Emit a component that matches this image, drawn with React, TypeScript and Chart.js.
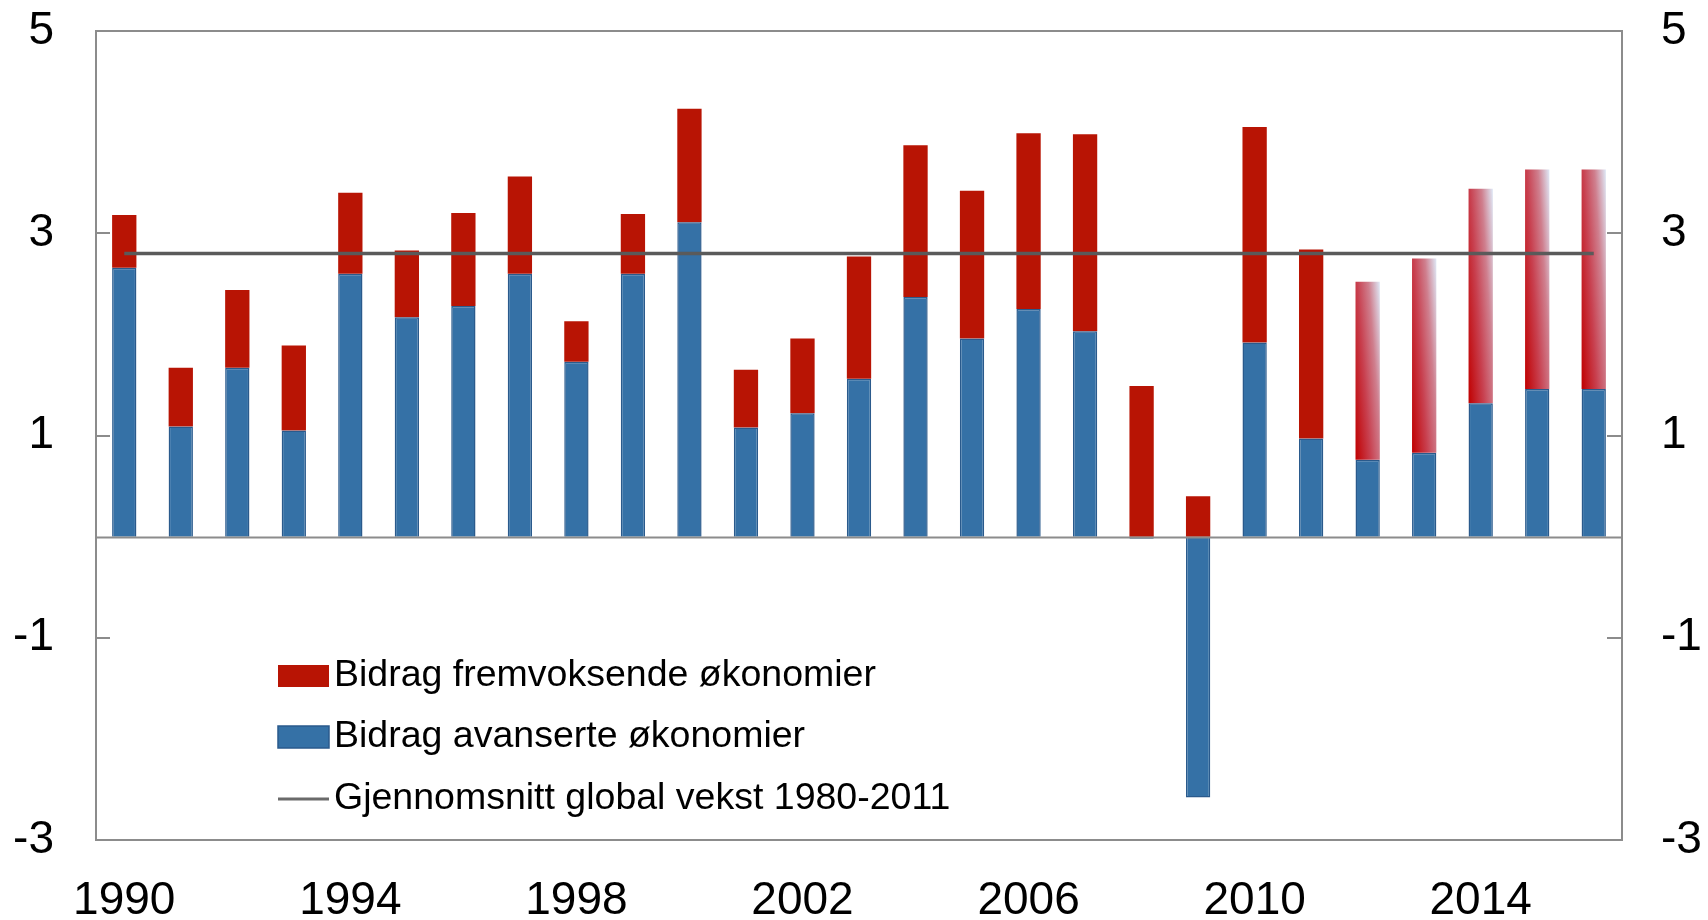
import React, { useEffect, useRef } from "react";
import { Chart, registerables } from "chart.js";

Chart.register(...registerables);

const years = [
  "1990", "1991", "1992", "1993", "1994", "1995", "1996", "1997", "1998", "1999",
  "2000", "2001", "2002", "2003", "2004", "2005", "2006", "2007", "2008", "2009",
  "2010", "2011", "2012", "2013", "2014", "2015", "2016",
];

const advancedContribution = [
  2.66, 1.09, 1.67, 1.05, 2.6, 2.17, 2.28, 2.6, 1.73, 2.6,
  3.11, 1.08, 1.22, 1.56, 2.37, 1.96, 2.25, 2.03, -0.02, -2.58,
  1.92, 0.97, 0.76, 0.83, 1.32, 1.46, 1.46,
];

const emergingContribution = [
  0.52, 0.58, 0.77, 0.84, 0.8, 0.66, 0.92, 0.96, 0.4, 0.59,
  1.12, 0.57, 0.74, 1.21, 1.5, 1.46, 1.74, 1.95, 1.49, 0.4,
  2.13, 1.87, 1.76, 1.92, 2.12, 2.17, 2.17,
];

const AVERAGE_GROWTH = 2.8;
const forecastYears = ["2012", "2013", "2014", "2015", "2016"];
const xTickLabels = ["1990", "1994", "1998", "2002", "2006", "2010", "2014"];
const yTickValues = [-3, -1, 1, 3, 5];

const legendLabels = [
  "Bidrag fremvoksende økonomier",
  "Bidrag avanserte økonomier",
  "Gjennomsnitt global vekst 1980-2011",
];

const RED = "#b81404";
const BLUE = "#3571a6";
const BLUE_BORDER = "#2a5a8c";
const LINE_GREY = "#5a5a5a";
const FRAME_GREY = "#8c8c8c";
const FONT = '"Liberation Sans", Arial, sans-serif';
const BAR_PCT = 0.43;

const framePlugin = {
  id: "frame",
  afterDatasetsDraw(chart: any) {
    const { ctx, chartArea } = chart;
    const y = chart.scales.y;
    const y0 = Math.round(y.getPixelForValue(0)) + 0.5;
    ctx.save();
    ctx.strokeStyle = FRAME_GREY;
    ctx.lineWidth = 2;
    ctx.beginPath();
    ctx.moveTo(chartArea.left, y0);
    ctx.lineTo(chartArea.right, y0);
    ctx.stroke();
    ctx.restore();
  },
  afterDraw(chart: any) {
    const { ctx, chartArea } = chart;
    const y = chart.scales.y;
    ctx.save();
    ctx.strokeStyle = FRAME_GREY;
    ctx.lineWidth = 2;
    ctx.strokeRect(chartArea.left, chartArea.top, chartArea.right - chartArea.left, chartArea.bottom - chartArea.top);
    ctx.beginPath();
    for (const v of yTickValues) {
      const py = Math.round(y.getPixelForValue(v));
      ctx.moveTo(chartArea.left, py);
      ctx.lineTo(chartArea.left + 14, py);
      ctx.moveTo(chartArea.right - 15, py);
      ctx.lineTo(chartArea.right, py);
    }
    ctx.stroke();

    // legend
    const sx = chartArea.left + 182;
    const sw = 51;
    const rows = [676, 737, 799];
    ctx.fillStyle = RED;
    ctx.fillRect(sx, rows[0] - 11, sw, 22);
    ctx.fillStyle = BLUE;
    ctx.fillRect(sx, rows[1] - 11, sw, 22);
    ctx.strokeStyle = BLUE_BORDER;
    ctx.lineWidth = 1.5;
    ctx.strokeRect(sx, rows[1] - 11, sw, 22);
    ctx.strokeStyle = "#6a6a6a";
    ctx.lineWidth = 3;
    ctx.beginPath();
    ctx.moveTo(sx, rows[2]);
    ctx.lineTo(sx + sw, rows[2]);
    ctx.stroke();
    ctx.fillStyle = "#000";
    ctx.font = `37.5px ${FONT}`;
    ctx.textBaseline = "middle";
    ctx.textAlign = "left";
    legendLabels.forEach((t, i) => ctx.fillText(t, sx + sw + 5, rows[i]));
    ctx.restore();
  },
};

function emergingColor(c: any) {
  const i = c.dataIndex;
  if (!forecastYears.includes(years[i])) return RED;
  const chart = c.chart;
  const xs = chart.scales && chart.scales.x;
  const ys = chart.scales && chart.scales.y;
  if (!xs || !ys || !chart.chartArea) return RED;
  const x = xs.getPixelForValue(i);
  const w = (xs.getPixelForValue(1) - xs.getPixelForValue(0)) * BAR_PCT;
  const yb = ys.getPixelForValue(advancedContribution[i]);
  const yt = ys.getPixelForValue(advancedContribution[i] + emergingContribution[i]);
  const h = Math.max(yb - yt, 1);
  // t = a*u + b*v, u across the bar (0..1), v up the bar (0..1)
  const a = 0.64;
  const b = 0.36;
  const gx = a / w;
  const gy = b / h;
  const n = gx * gx + gy * gy;
  const dx = gx / n;
  const dy = gy / n;
  const x0 = x - w / 2;
  const g = chart.ctx.createLinearGradient(x0, yb, x0 + dx, yb - dy);
  g.addColorStop(0, "#c00000");
  g.addColorStop(0.4, "#c8404f");
  g.addColorStop(0.7, "#cf7f8e");
  g.addColorStop(1, "#dfe9f7");
  return g;
}

export default function App() {
  const ref = useRef<HTMLCanvasElement>(null);
  useEffect(() => {
    document.body.style.margin = "0";
    const canvas = ref.current!;
    const tickFont = { family: FONT, size: 46 };
    const chart = new Chart(canvas, {
      type: "bar",
      data: {
        labels: years,
        datasets: [
          {
            type: "line",
            label: legendLabels[2],
            data: years.map(() => AVERAGE_GROWTH),
            borderColor: LINE_GREY,
            borderWidth: 3.5,
            pointRadius: 0,
            yAxisID: "y",
            order: 0,
          } as any,
          {
            label: legendLabels[1],
            data: advancedContribution,
            backgroundColor: BLUE,
            borderColor: BLUE_BORDER,
            borderWidth: 1.5,
            stack: "s",
            yAxisID: "y",
            order: 1,
            categoryPercentage: 1,
            barPercentage: BAR_PCT,
          },
          {
            label: legendLabels[0],
            data: emergingContribution,
            backgroundColor: emergingColor as any,
            borderWidth: 0,
            stack: "s",
            yAxisID: "y",
            order: 2,
            categoryPercentage: 1,
            barPercentage: BAR_PCT,
          },
        ],
      },
      options: {
        responsive: false,
        animation: false,
        layout: { padding: { top: 31, left: 0, right: 0, bottom: 0 } },
        plugins: { legend: { display: false }, tooltip: { enabled: false } },
        scales: {
          x: {
            stacked: true,
            grid: { display: false, drawTicks: false },
            border: { display: false },
            ticks: {
              autoSkip: false,
              maxRotation: 0,
              padding: 34,
              color: "#000",
              font: tickFont,
              callback: (_v: any, i: number) => (xTickLabels.includes(years[i]) ? years[i] : ""),
            },
            afterFit: (s: any) => {
              s.height = 80;
              s.paddingLeft = 0;
              s.paddingRight = 0;
            },
          },
          y: {
            position: "left",
            stacked: true,
            min: -3,
            max: 5,
            grid: { display: false, drawTicks: false },
            border: { display: false },
            afterBuildTicks: (s: any) => {
              s.ticks = yTickValues.map((v) => ({ value: v }));
            },
            ticks: { padding: 42, color: "#000", font: tickFont },
            afterFit: (s: any) => {
              s.width = 96;
              s.paddingTop = 0;
              s.paddingBottom = 0;
            },
          },
          y2: {
            position: "right",
            min: -3,
            max: 5,
            grid: { display: false, drawTicks: false },
            border: { display: false },
            afterBuildTicks: (s: any) => {
              s.ticks = yTickValues.map((v) => ({ value: v }));
            },
            ticks: { padding: 39, color: "#000", font: tickFont },
            afterFit: (s: any) => {
              s.width = 86;
              s.paddingTop = 0;
              s.paddingBottom = 0;
            },
          },
        },
      },
      plugins: [framePlugin],
    });
    return () => chart.destroy();
  }, []);
  return <canvas ref={ref} width={1708} height={920} style={{ display: "block" }} />;
}
